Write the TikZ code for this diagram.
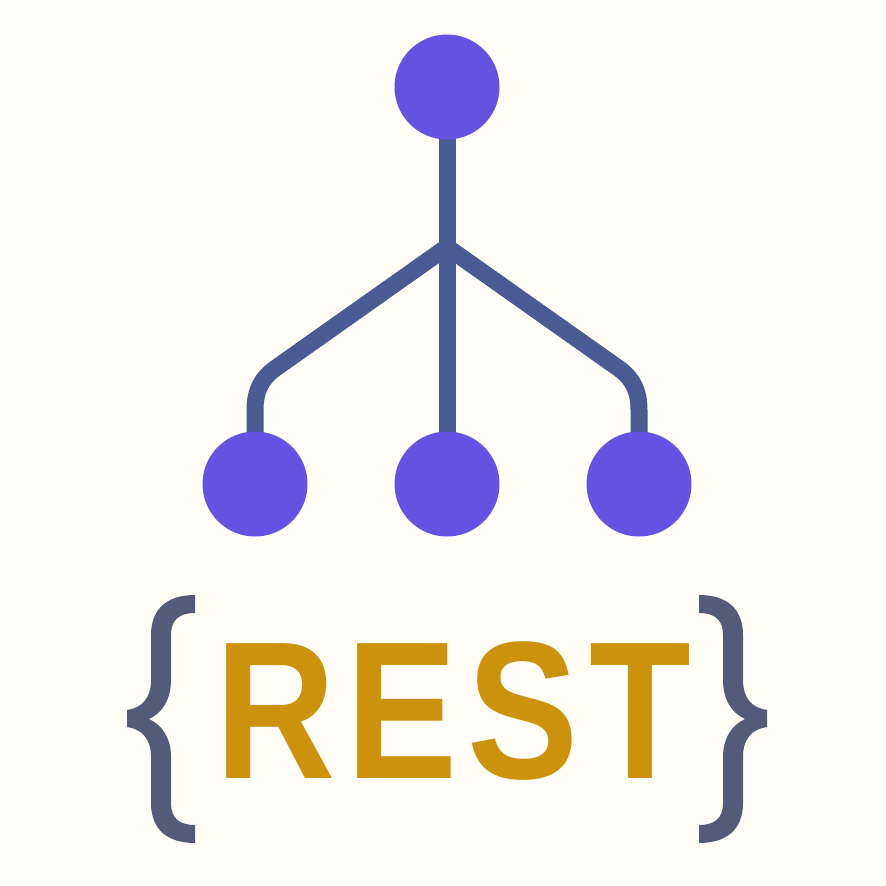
\documentclass[tikz,border=0pt]{standalone}
\usepackage{fontspec}
\newfontfamily\restfont{Liberation Sans Bold}[LetterSpace=6.5]
\definecolor{bgcream}{HTML}{FFFDF6}
\definecolor{nodeviolet}{HTML}{6552E0}
\definecolor{linkblue}{HTML}{4A5A92}
\definecolor{bracegray}{HTML}{535B78}
\definecolor{restgold}{HTML}{CC920B}
\newcommand{\curlypath}{(195,595) .. controls (168,595) and (151,608) .. (151,635) -- (151,680)
  .. controls (151,698) and (142,708) .. (127,710) -- (127,727)
  .. controls (142,729) and (151,739) .. (151,757) -- (151,803)
  .. controls (151,830) and (168,843) .. (195,843) -- (195,825)
  .. controls (179,825) and (171,818) .. (171,803) -- (171,757)
  .. controls (171,738) and (162,725) .. (149,719)
  .. controls (162,713) and (171,700) .. (171,680) -- (171,635)
  .. controls (171,620) and (179,613) .. (195,613) -- cycle}
\begin{document}
\begin{tikzpicture}[x=1pt,y=-1pt,
  circ/.style={circle, fill=nodeviolet, minimum size=105pt, inner sep=0pt},
  link/.style={draw=linkblue, line width=17pt},
  curly/.style={fill=bracegray},
  lab/.style={font=\restfont\fontsize{196pt}{196pt}\selectfont, text=restgold, inner sep=0pt, anchor=base, xscale=.85, transform shape}
]
\useasboundingbox[fill=bgcream] (0,0) rectangle (886,886);
\coordinate (hub) at (447,247);
\coordinate (bendl) at (278,366.5);
\coordinate (bendr) at (616,366.5);
\coordinate (topc) at (447,87);
\coordinate (leftc) at (255,484);
\coordinate (midc) at (447,484);
\coordinate (rightc) at (639,484);
\draw[link] (topc) -- (midc);
\draw[link,line join=round] (hub) -- (bendl) .. controls (262,377) and (255,390) .. (255,410) -- (leftc);
\draw[link,line join=round] (hub) -- (bendr) .. controls (632,377) and (639,390) .. (639,410) -- (rightc);
\node[circ] (top) at (topc) {};
\node[circ] (left) at (leftc) {};
\node[circ] (mid) at (midc) {};
\node[circ] (right) at (rightc) {};
\node[lab] (rest) at (453.5,778) {REST};
% braces
\fill[curly] \curlypath;
\begin{scope}[xshift=894pt,xscale=-1]
\fill[curly] \curlypath;
\end{scope}
\end{tikzpicture}
\end{document}
